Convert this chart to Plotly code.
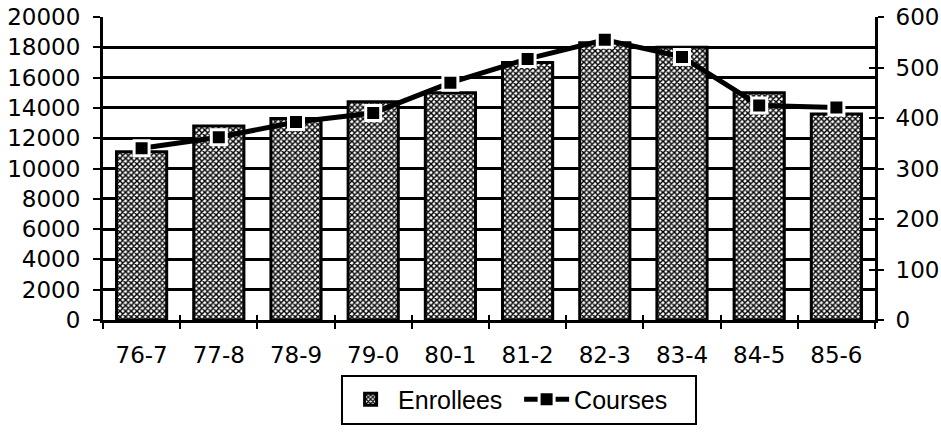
import plotly.graph_objects as go

categories = ["76-7", "77-8", "78-9", "79-0", "80-1", "81-2", "82-3", "83-4", "84-5", "85-6"]
enrollees = [11100, 12800, 13300, 14400, 15000, 17000, 18300, 18000, 15000, 13600]
courses = [340, 362, 392, 410, 470, 517, 555, 521, 425, 421]

left_ticks = list(range(0, 20001, 2000))
right_ticks = list(range(0, 601, 100))

TICKFONT = dict(family="DejaVu Sans", size=23, color="black")

fig = go.Figure()
fig.add_trace(go.Bar(
    x=categories, y=enrollees, name="Enrollees", width=0.65,
    marker=dict(color="white",
                line=dict(color="black", width=3),
                pattern=dict(shape="x", size=4, solidity=0.6,
                             fgcolor="black", bgcolor="white", fillmode="replace")),
    yaxis="y",
))
fig.add_trace(go.Scatter(
    x=categories, y=courses, name="Courses", mode="lines+markers",
    line=dict(color="black", width=5),
    marker=dict(symbol="square", size=15, color="black",
                line=dict(color="white", width=3)),
    yaxis="y2",
))

fig.update_layout(
    width=941, height=436,
    margin=dict(l=103, r=66, t=17, b=113),
    paper_bgcolor="white", plot_bgcolor="white",
    showlegend=True,
    xaxis=dict(
        type="category", range=[-0.5, 9.5], automargin=False,
        tickson="boundaries", ticks="outside", ticklen=6, tickwidth=2, tickcolor="black",
        showline=True, linecolor="black", linewidth=3,
        showgrid=False, tickfont=TICKFONT, ticklabelstandoff=12,
    ),
    xaxis2=dict(
        overlaying="x", range=[-0.5, 9.5], showticklabels=False, automargin=False,
        tickmode="array", tickvals=[i - 0.5 for i in range(11)],
        ticks="inside", ticklen=5, tickwidth=2, tickcolor="black",
        showgrid=False, showline=False, zeroline=False, side="bottom",
    ),
    yaxis=dict(
        range=[0, 20000], tickmode="array", tickvals=left_ticks, automargin=False,
        ticktext=[str(v) for v in left_ticks], ticklabeloverflow="allow",
        ticks="outside", ticklen=7, tickwidth=2, tickcolor="black",
        showline=True, linecolor="black", linewidth=3,
        showgrid=True, gridcolor="black", gridwidth=3,
        zeroline=False, tickfont=TICKFONT, ticklabelstandoff=8,
    ),
    yaxis2=dict(
        range=[0, 600], tickmode="array", tickvals=right_ticks, automargin=False,
        overlaying="y", side="right", ticklabeloverflow="allow",
        ticks="outside", ticklen=6, tickwidth=2, tickcolor="black",
        showline=True, linecolor="black", linewidth=3,
        showgrid=False, zeroline=False, tickfont=TICKFONT, ticklabelstandoff=7,
    ),
    yaxis3=dict(
        range=[0, 600], tickmode="array", tickvals=right_ticks, automargin=False,
        overlaying="y", side="right", showticklabels=False,
        ticks="inside", ticklen=6, tickwidth=2, tickcolor="black",
        showline=False, showgrid=False, zeroline=False,
    ),
    legend=dict(
        orientation="h", x=0.539, xanchor="center", y=-0.18, yanchor="top",
        bordercolor="black", borderwidth=2, bgcolor="white",
        font=dict(family="Liberation Sans", size=25, color="black"),
        entrywidth=116, itemwidth=45,
    ),
)
# invisible helper trace to activate the helper tick axes
fig.add_trace(go.Scatter(x=[0], y=[0], xaxis="x2", yaxis="y3", mode="markers",
                         marker=dict(opacity=0), showlegend=False, hoverinfo="skip"))

# remove the default page margin so the figure fills the window exactly
fig.write_html("out.html", config={"displayModeBar": False},
               post_script="document.body.style.margin='0';")
